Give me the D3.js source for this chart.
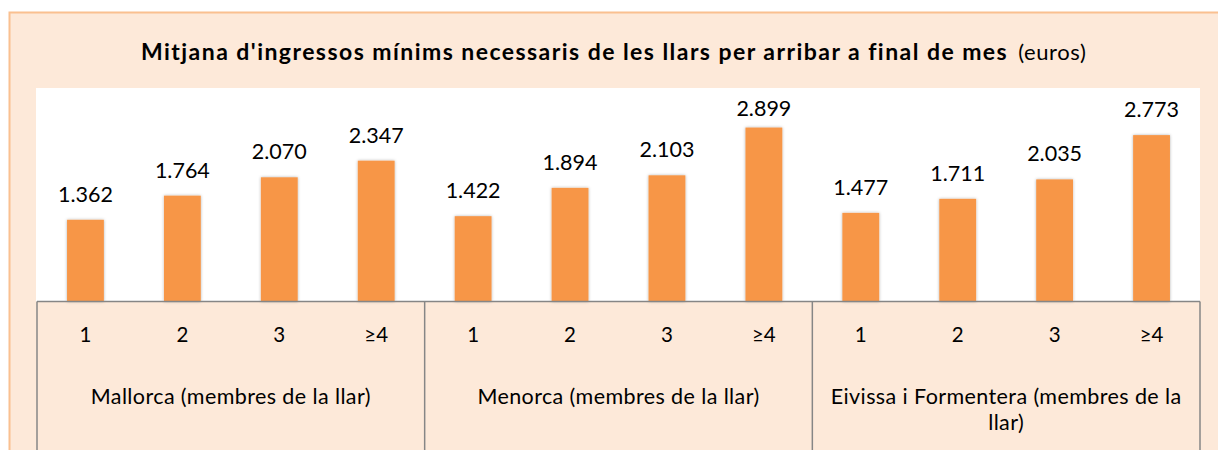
<!DOCTYPE html>
<html><head><meta charset="utf-8">
<script src="https://cdn.jsdelivr.net/npm/d3@7"></script>
<style>body{margin:0;background:#fff;}svg{display:block;font-family:Lato, "Open Sans", sans-serif;}</style>
</head><body>
<svg id="c" width="1218" height="450"></svg>
<script>
const groups = ["Mallorca (membres de la llar)", "Menorca (membres de la llar)", "Eivissa i Formentera (membres de la llar)"];
const sizes = ["1", "2", "3", "≥4"];
const mallorca = [1362, 1764, 2070, 2347];
const menorca = [1422, 1894, 2103, 2899];
const eivissa = [1477, 1711, 2035, 2773];
const seriesValues = [mallorca, menorca, eivissa];
const titleBold = "Mitjana d'ingressos mínims necessaris de les llars per arribar a final de mes";
const titleNormal = "(euros)";

const data = [];
groups.forEach((g, gi) => sizes.forEach((s, si) => data.push({g, s, key: gi + "|" + s, v: seriesValues[gi][si]})));

const svg = d3.select("#c");
const W = 1218, H = 450;
const pLeft = 37, pRight = 1200, pTop = 88, pBase = 301.5;

// background & border
svg.append("rect").attr("x", 0).attr("y", 0).attr("width", W).attr("height", H).attr("fill", "#fff");
svg.append("rect").attr("x", 9.5).attr("y", 12.5).attr("width", W + 20).attr("height", H + 20)
  .attr("fill", "#FDE9D9").attr("stroke", "#FAC090").attr("stroke-width", 2);
// plot area
svg.append("rect").attr("x", pLeft - 1).attr("y", pTop).attr("width", pRight - pLeft + 1).attr("height", pBase - pTop).attr("fill", "#fff");

const x = d3.scaleBand().domain(data.map(d => d.key)).range([pLeft, pRight]).paddingInner(0.62).paddingOuter(0.31);
const xg = d3.scaleBand().domain(groups).range([pLeft, pRight]);
const y = d3.scaleLinear().domain([0, 3500]).range([pBase, 91.5]);

const defs = svg.append("defs");
const f = defs.append("filter").attr("id", "sh").attr("x", "-30%").attr("y", "-10%").attr("width", "160%").attr("height", "120%");
f.append("feDropShadow").attr("dx", 0).attr("dy", 0).attr("stdDeviation", 1.6).attr("flood-color", "#000").attr("flood-opacity", 0.3);

svg.append("g").selectAll("rect").data(data).join("rect")
  .attr("x", d => x(d.key)).attr("width", x.bandwidth())
  .attr("y", d => y(d.v)).attr("height", d => pBase - y(d.v))
  .attr("fill", "#F79646").attr("filter", "url(#sh)");

const fmt = v => d3.format(",")(v).replace(/,/g, ".");
svg.append("g").selectAll("text").data(data).join("text")
  .attr("x", d => x(d.key) + x.bandwidth() / 2)
  .attr("y", d => Math.max(y(d.v) - 18, 116))
  .attr("text-anchor", "middle").attr("font-size", 21.5).attr("fill", "#000")
  .text(d => fmt(d.v));

// axis
const ax = svg.append("g");
ax.append("line").attr("x1", pLeft).attr("x2", pRight).attr("y1", pBase).attr("y2", pBase).attr("stroke", "#868686").attr("stroke-width", 1.5);
const bounds = groups.map(g => xg(g)).concat([pRight]);
ax.selectAll("line.v").data(bounds).join("line").attr("class", "v")
  .attr("x1", d => d).attr("x2", d => d).attr("y1", pBase).attr("y2", H).attr("stroke", "#868686").attr("stroke-width", 1.5);

svg.append("g").selectAll("text").data(data).join("text")
  .attr("x", d => x(d.key) + x.bandwidth() / 2).attr("y", 342)
  .attr("text-anchor", "middle").attr("font-size", 20.5).attr("fill", "#000").text(d => d.s);

const wrapLines = {"Eivissa i Formentera (membres de la llar)": ["Eivissa i Formentera (membres de la", "llar)"]};
groups.forEach(g => {
  const lines = wrapLines[g] || [g];
  const t = svg.append("text").attr("text-anchor", "middle").attr("font-size", 21.5).attr("letter-spacing", 0.4).attr("fill", "#000");
  lines.forEach((l, i) => t.append("tspan").attr("x", xg(g) + xg.bandwidth() / 2).attr("y", 403.5 + i * 26).text(l));
});

// title
const tt = svg.append("text").attr("x", 141).attr("y", 59.5).attr("fill", "#000");
tt.append("tspan").attr("font-weight", "bold").attr("font-size", 23).attr("letter-spacing", 1.45).text(titleBold);
tt.append("tspan").attr("dx", 10).attr("font-size", 22).attr("letter-spacing", 0.6).text(titleNormal);
</script>
</body></html>
